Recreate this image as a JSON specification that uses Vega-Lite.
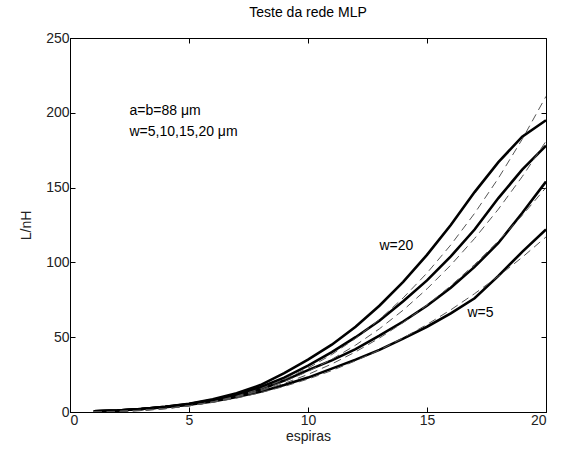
{
  "$schema": "https://vega.github.io/schema/vega-lite/v6.json",
  "autosize": "none",
  "width": 476,
  "height": 374,
  "padding": {"left": 70, "top": 38, "right": 16, "bottom": 44},
  "background": "white",
  "title": {"text": "Teste da rede MLP", "font": "Liberation Sans", "fontSize": 14, "fontWeight": "normal", "color": "#000", "offset": 11},
  "config": {
    "view": {"stroke": "#000", "strokeWidth": 1},
    "axis": {"grid": false, "domainColor": "#000", "tickColor": "#000", "labelFont": "Liberation Sans", "labelFontSize": 14, "labelColor": "#222", "titleFont": "Liberation Sans", "titleFontSize": 14, "titleFontWeight": "normal", "titleColor": "#222", "tickSize": -5, "labelPadding": 6}
  },
  "datasets": {
    "curvas": [
    {"espiras":1,"L":0.4,"w":20,"tipo":"rede"},{"espiras":2,"L":1,"w":20,"tipo":"rede"},{"espiras":3,"L":2,"w":20,"tipo":"rede"},{"espiras":4,"L":3.5,"w":20,"tipo":"rede"},{"espiras":5,"L":5.5,"w":20,"tipo":"rede"},{"espiras":6,"L":8.5,"w":20,"tipo":"rede"},{"espiras":7,"L":12.5,"w":20,"tipo":"rede"},{"espiras":8,"L":18,"w":20,"tipo":"rede"},{"espiras":9,"L":26,"w":20,"tipo":"rede"},{"espiras":10,"L":35,"w":20,"tipo":"rede"},{"espiras":11,"L":45,"w":20,"tipo":"rede"},{"espiras":12,"L":57,"w":20,"tipo":"rede"},{"espiras":13,"L":71,"w":20,"tipo":"rede"},{"espiras":14,"L":87,"w":20,"tipo":"rede"},{"espiras":15,"L":105,"w":20,"tipo":"rede"},{"espiras":16,"L":125,"w":20,"tipo":"rede"},{"espiras":17,"L":147,"w":20,"tipo":"rede"},{"espiras":18,"L":167,"w":20,"tipo":"rede"},{"espiras":19,"L":184,"w":20,"tipo":"rede"},{"espiras":20,"L":195,"w":20,"tipo":"rede"},
    {"espiras":1,"L":0.4,"w":15,"tipo":"rede"},{"espiras":2,"L":1,"w":15,"tipo":"rede"},{"espiras":3,"L":2,"w":15,"tipo":"rede"},{"espiras":4,"L":3.4,"w":15,"tipo":"rede"},{"espiras":5,"L":5.3,"w":15,"tipo":"rede"},{"espiras":6,"L":8,"w":15,"tipo":"rede"},{"espiras":7,"L":11.8,"w":15,"tipo":"rede"},{"espiras":8,"L":16.5,"w":15,"tipo":"rede"},{"espiras":9,"L":23,"w":15,"tipo":"rede"},{"espiras":10,"L":31,"w":15,"tipo":"rede"},{"espiras":11,"L":40,"w":15,"tipo":"rede"},{"espiras":12,"L":50,"w":15,"tipo":"rede"},{"espiras":13,"L":61,"w":15,"tipo":"rede"},{"espiras":14,"L":74,"w":15,"tipo":"rede"},{"espiras":15,"L":88,"w":15,"tipo":"rede"},{"espiras":16,"L":104,"w":15,"tipo":"rede"},{"espiras":17,"L":122,"w":15,"tipo":"rede"},{"espiras":18,"L":143,"w":15,"tipo":"rede"},{"espiras":19,"L":162,"w":15,"tipo":"rede"},{"espiras":20,"L":178,"w":15,"tipo":"rede"},
    {"espiras":1,"L":0.4,"w":10,"tipo":"rede"},{"espiras":2,"L":1,"w":10,"tipo":"rede"},{"espiras":3,"L":2,"w":10,"tipo":"rede"},{"espiras":4,"L":3.3,"w":10,"tipo":"rede"},{"espiras":5,"L":5,"w":10,"tipo":"rede"},{"espiras":6,"L":7.5,"w":10,"tipo":"rede"},{"espiras":7,"L":11,"w":10,"tipo":"rede"},{"espiras":8,"L":15,"w":10,"tipo":"rede"},{"espiras":9,"L":21,"w":10,"tipo":"rede"},{"espiras":10,"L":28,"w":10,"tipo":"rede"},{"espiras":11,"L":34.5,"w":10,"tipo":"rede"},{"espiras":12,"L":42,"w":10,"tipo":"rede"},{"espiras":13,"L":51,"w":10,"tipo":"rede"},{"espiras":14,"L":60.5,"w":10,"tipo":"rede"},{"espiras":15,"L":71,"w":10,"tipo":"rede"},{"espiras":16,"L":83,"w":10,"tipo":"rede"},{"espiras":17,"L":97,"w":10,"tipo":"rede"},{"espiras":18,"L":113,"w":10,"tipo":"rede"},{"espiras":19,"L":133,"w":10,"tipo":"rede"},{"espiras":20,"L":154,"w":10,"tipo":"rede"},
    {"espiras":1,"L":0.4,"w":5,"tipo":"rede"},{"espiras":2,"L":1,"w":5,"tipo":"rede"},{"espiras":3,"L":2,"w":5,"tipo":"rede"},{"espiras":4,"L":3.2,"w":5,"tipo":"rede"},{"espiras":5,"L":4.8,"w":5,"tipo":"rede"},{"espiras":6,"L":7,"w":5,"tipo":"rede"},{"espiras":7,"L":10,"w":5,"tipo":"rede"},{"espiras":8,"L":13.5,"w":5,"tipo":"rede"},{"espiras":9,"L":18,"w":5,"tipo":"rede"},{"espiras":10,"L":23,"w":5,"tipo":"rede"},{"espiras":11,"L":29,"w":5,"tipo":"rede"},{"espiras":12,"L":35,"w":5,"tipo":"rede"},{"espiras":13,"L":41.5,"w":5,"tipo":"rede"},{"espiras":14,"L":49,"w":5,"tipo":"rede"},{"espiras":15,"L":57,"w":5,"tipo":"rede"},{"espiras":16,"L":66,"w":5,"tipo":"rede"},{"espiras":17,"L":76,"w":5,"tipo":"rede"},{"espiras":18,"L":91,"w":5,"tipo":"rede"},{"espiras":19,"L":107,"w":5,"tipo":"rede"},{"espiras":20,"L":122,"w":5,"tipo":"rede"},
    {"espiras":1,"L":0.04,"w":20,"tipo":"alvo"},{"espiras":2,"L":0.3,"w":20,"tipo":"alvo"},{"espiras":3,"L":0.95,"w":20,"tipo":"alvo"},{"espiras":4,"L":2.15,"w":20,"tipo":"alvo"},{"espiras":5,"L":4.06,"w":20,"tipo":"alvo"},{"espiras":6,"L":6.83,"w":20,"tipo":"alvo"},{"espiras":7,"L":10.6,"w":20,"tipo":"alvo"},{"espiras":8,"L":15.5,"w":20,"tipo":"alvo"},{"espiras":9,"L":21.7,"w":20,"tipo":"alvo"},{"espiras":10,"L":29.3,"w":20,"tipo":"alvo"},{"espiras":11,"L":38.4,"w":20,"tipo":"alvo"},{"espiras":12,"L":49.2,"w":20,"tipo":"alvo"},{"espiras":13,"L":61.8,"w":20,"tipo":"alvo"},{"espiras":14,"L":76.3,"w":20,"tipo":"alvo"},{"espiras":15,"L":92.9,"w":20,"tipo":"alvo"},{"espiras":16,"L":111.7,"w":20,"tipo":"alvo"},{"espiras":17,"L":132.8,"w":20,"tipo":"alvo"},{"espiras":18,"L":156.3,"w":20,"tipo":"alvo"},{"espiras":19,"L":182.3,"w":20,"tipo":"alvo"},{"espiras":20,"L":211,"w":20,"tipo":"alvo"},
    {"espiras":1,"L":0.05,"w":15,"tipo":"alvo"},{"espiras":2,"L":0.33,"w":15,"tipo":"alvo"},{"espiras":3,"L":1.0,"w":15,"tipo":"alvo"},{"espiras":4,"L":2.2,"w":15,"tipo":"alvo"},{"espiras":5,"L":4.06,"w":15,"tipo":"alvo"},{"espiras":6,"L":6.7,"w":15,"tipo":"alvo"},{"espiras":7,"L":10.2,"w":15,"tipo":"alvo"},{"espiras":8,"L":14.7,"w":15,"tipo":"alvo"},{"espiras":9,"L":20.3,"w":15,"tipo":"alvo"},{"espiras":10,"L":27.1,"w":15,"tipo":"alvo"},{"espiras":11,"L":35.2,"w":15,"tipo":"alvo"},{"espiras":12,"L":44.7,"w":15,"tipo":"alvo"},{"espiras":13,"L":55.6,"w":15,"tipo":"alvo"},{"espiras":14,"L":68.1,"w":15,"tipo":"alvo"},{"espiras":15,"L":82.3,"w":15,"tipo":"alvo"},{"espiras":16,"L":98.2,"w":15,"tipo":"alvo"},{"espiras":17,"L":116.0,"w":15,"tipo":"alvo"},{"espiras":18,"L":135.6,"w":15,"tipo":"alvo"},{"espiras":19,"L":157.3,"w":15,"tipo":"alvo"},{"espiras":20,"L":181,"w":15,"tipo":"alvo"},
    {"espiras":1,"L":0.07,"w":10,"tipo":"alvo"},{"espiras":2,"L":0.39,"w":10,"tipo":"alvo"},{"espiras":3,"L":1.12,"w":10,"tipo":"alvo"},{"espiras":4,"L":2.36,"w":10,"tipo":"alvo"},{"espiras":5,"L":4.2,"w":10,"tipo":"alvo"},{"espiras":6,"L":6.7,"w":10,"tipo":"alvo"},{"espiras":7,"L":10.0,"w":10,"tipo":"alvo"},{"espiras":8,"L":14.1,"w":10,"tipo":"alvo"},{"espiras":9,"L":19.1,"w":10,"tipo":"alvo"},{"espiras":10,"L":25.1,"w":10,"tipo":"alvo"},{"espiras":11,"L":32.1,"w":10,"tipo":"alvo"},{"espiras":12,"L":40.2,"w":10,"tipo":"alvo"},{"espiras":13,"L":49.4,"w":10,"tipo":"alvo"},{"espiras":14,"L":59.8,"w":10,"tipo":"alvo"},{"espiras":15,"L":71.4,"w":10,"tipo":"alvo"},{"espiras":16,"L":84.4,"w":10,"tipo":"alvo"},{"espiras":17,"L":98.6,"w":10,"tipo":"alvo"},{"espiras":18,"L":114.3,"w":10,"tipo":"alvo"},{"espiras":19,"L":131.4,"w":10,"tipo":"alvo"},{"espiras":20,"L":150,"w":10,"tipo":"alvo"},
    {"espiras":1,"L":0.09,"w":5,"tipo":"alvo"},{"espiras":2,"L":0.46,"w":5,"tipo":"alvo"},{"espiras":3,"L":1.21,"w":5,"tipo":"alvo"},{"espiras":4,"L":2.42,"w":5,"tipo":"alvo"},{"espiras":5,"L":4.14,"w":5,"tipo":"alvo"},{"espiras":6,"L":6.43,"w":5,"tipo":"alvo"},{"espiras":7,"L":9.3,"w":5,"tipo":"alvo"},{"espiras":8,"L":12.9,"w":5,"tipo":"alvo"},{"espiras":9,"L":17.1,"w":5,"tipo":"alvo"},{"espiras":10,"L":22.0,"w":5,"tipo":"alvo"},{"espiras":11,"L":27.7,"w":5,"tipo":"alvo"},{"espiras":12,"L":34.2,"w":5,"tipo":"alvo"},{"espiras":13,"L":41.4,"w":5,"tipo":"alvo"},{"espiras":14,"L":49.5,"w":5,"tipo":"alvo"},{"espiras":15,"L":58.5,"w":5,"tipo":"alvo"},{"espiras":16,"L":68.3,"w":5,"tipo":"alvo"},{"espiras":17,"L":79.1,"w":5,"tipo":"alvo"},{"espiras":18,"L":90.8,"w":5,"tipo":"alvo"},{"espiras":19,"L":103.4,"w":5,"tipo":"alvo"},{"espiras":20,"L":117,"w":5,"tipo":"alvo"}
    ],
    "um": [{"id": 1}]
  },
  "resolve": {"axis": {"x": "independent", "y": "independent"}},
  "layer": [
    {
      "data": {"name": "curvas"},
      "transform": [{"filter": "datum.tipo === 'rede'"}],
      "mark": {"type": "line", "color": "#000", "strokeWidth": 2.6, "clip": true},
      "encoding": {
        "x": {"field": "espiras", "type": "quantitative", "scale": {"domain": [0, 20], "nice": false}, "axis": {"title": "espiras", "values": [0, 5, 10, 15, 20], "titlePadding": 2}},
        "y": {"field": "L", "type": "quantitative", "scale": {"domain": [0, 250], "nice": false}, "axis": {"title": "L/nH", "values": [0, 50, 100, 150, 200, 250], "titlePadding": 12}},
        "detail": {"field": "w"},
        "order": {"field": "espiras"}
      }
    },
    {
      "data": {"name": "curvas"},
      "transform": [{"filter": "datum.tipo === 'alvo'"}],
      "mark": {"type": "line", "color": "#555", "strokeWidth": 1, "strokeDash": [8, 5], "clip": true},
      "encoding": {
        "x": {"field": "espiras", "type": "quantitative", "axis": {"orient": "top", "title": null, "labels": false, "values": [0, 5, 10, 15, 20], "domain": false}},
        "y": {"field": "L", "type": "quantitative", "axis": {"orient": "right", "title": null, "labels": false, "values": [0, 50, 100, 150, 200, 250], "domain": false}},
        "detail": {"field": "w"},
        "order": {"field": "espiras"}
      }
    },
    {
      "data": {"name": "um"},
      "mark": {"type": "text", "align": "left", "baseline": "middle", "font": "Liberation Sans", "fontSize": 14, "color": "#000"},
      "encoding": {"x": {"datum": 2.5, "type": "quantitative", "axis": null}, "y": {"datum": 201, "type": "quantitative", "axis": null}, "text": {"value": "a=b=88 μm"}}
    },
    {
      "data": {"name": "um"},
      "mark": {"type": "text", "align": "left", "baseline": "middle", "font": "Liberation Sans", "fontSize": 14, "color": "#000"},
      "encoding": {"x": {"datum": 2.5, "type": "quantitative", "axis": null}, "y": {"datum": 187, "type": "quantitative", "axis": null}, "text": {"value": "w=5,10,15,20 μm"}}
    },
    {
      "data": {"name": "um"},
      "mark": {"type": "text", "align": "left", "baseline": "middle", "font": "Liberation Sans", "fontSize": 14, "color": "#000"},
      "encoding": {"x": {"datum": 13.0, "type": "quantitative", "axis": null}, "y": {"datum": 111, "type": "quantitative", "axis": null}, "text": {"value": "w=20"}}
    },
    {
      "data": {"name": "um"},
      "mark": {"type": "text", "align": "left", "baseline": "middle", "font": "Liberation Sans", "fontSize": 14, "color": "#000"},
      "encoding": {"x": {"datum": 16.7, "type": "quantitative", "axis": null}, "y": {"datum": 66, "type": "quantitative", "axis": null}, "text": {"value": "w=5"}}
    }
  ]
}
